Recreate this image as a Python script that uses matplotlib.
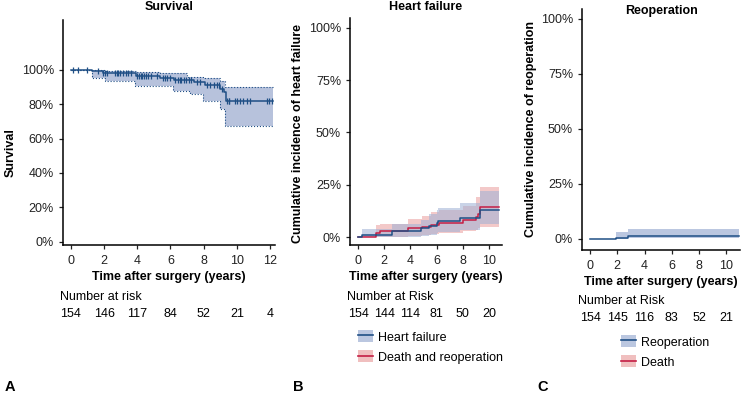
import matplotlib
matplotlib.use('Agg')
import matplotlib.pyplot as plt
import numpy as np
from matplotlib.lines import Line2D
from matplotlib.patches import Patch
from matplotlib.ticker import PercentFormatter
from matplotlib.transforms import blended_transform_factory

plt.rcParams['font.family'] = ['Liberation Sans', 'DejaVu Sans']
plt.rcParams['font.size'] = 9

# Panel A: overall survival (Kaplan-Meier)
surv_t = [0, 1.25, 1.95, 3.95, 5.35, 6.2, 7.4, 8.1, 9.0, 9.2, 9.35]
surv = [1.0, 0.99, 0.978, 0.962, 0.952, 0.94, 0.927, 0.912, 0.89, 0.87, 0.82]
surv_lo_t = [0, 1.27, 2.05, 3.85, 6.15, 7.2, 7.95, 9.0, 9.3]
surv_lo = [1.0, 0.95, 0.935, 0.906, 0.878, 0.857, 0.82, 0.771, 0.67]
surv_hi_t = [0, 1.27, 2.05, 3.95, 5.36, 7.0, 7.95, 9.0, 9.3]
surv_hi = [1.0, 0.996, 0.99, 0.985, 0.978, 0.959, 0.949, 0.935, 0.90]
surv_end = 12.2
censor_t = [0.14, 0.44, 0.94, 1.6, 1.95, 2.05, 2.15, 2.65, 2.75, 2.85, 2.95, 3.15,
            3.3, 3.45, 3.6, 4.0, 4.1, 4.2, 4.3, 4.4, 4.5, 4.65, 4.85, 5.2, 5.55,
            5.65, 5.8, 5.95, 6.3, 6.45, 6.55, 6.65, 6.8, 6.95, 7.1, 7.25, 7.6,
            7.8, 8.2, 8.4, 8.6, 8.8, 8.95, 9.1, 9.4, 9.5, 9.55, 9.9, 10.0, 10.2,
            10.4, 10.6, 10.8, 11.8, 11.95, 12.1]
risk_a_t = [0, 2, 4, 6, 8, 10, 12]
risk_a = [154, 146, 117, 84, 52, 21, 4]

# Panel B: cumulative incidence of heart failure vs competing events
hf_t = [0, 0.28, 2.6, 4.8, 5.4, 6.0, 6.1, 7.8, 9.3]
hf = [0, 0.011, 0.03, 0.044, 0.053, 0.068, 0.077, 0.093, 0.127]
hf_lo = [0, 0, 0, 0.004, 0.01, 0.02, 0.025, 0.035, 0.064]
hf_hi = [0, 0.038, 0.06, 0.08, 0.11, 0.127, 0.14, 0.165, 0.22]
dr_t = [0, 1.4, 1.65, 3.8, 4.9, 5.6, 6.15, 8.0, 9.0, 9.2, 9.35]
dr = [0, 0.02, 0.03, 0.041, 0.049, 0.058, 0.068, 0.08, 0.096, 0.112, 0.143]
dr_lo = [0, 0, 0, 0.005, 0.01, 0.015, 0.02, 0.03, 0.035, 0.045, 0.05]
dr_hi = [0, 0.057, 0.06, 0.088, 0.10, 0.12, 0.13, 0.15, 0.19, 0.19, 0.24]
b_end = 10.75
risk_b_t = [0, 2, 4, 6, 8, 10]
risk_b = [154, 144, 114, 81, 50, 20]

# Panel C: cumulative incidence of reoperation
re_t = [0, 1.9, 2.8]
re = [0, 0.0065, 0.013]
re_lo = [0, 0.0, 0.003]
re_hi = [0, 0.03, 0.044]
c_end = 10.9
risk_c_t = [0, 2, 4, 6, 8, 10]
risk_c = [154, 145, 116, 83, 52, 21]

blue = '#1f4f85'
red = '#c41e44'
blue_band = '#9eb0d4'
red_band = '#eba5a5'

W, H = 746, 396
fig = plt.figure(figsize=(W / 100, H / 100), dpi=100)


def add_ax(l, r, t, b):
    ax = fig.add_axes([l / W, 1 - b / H, (r - l) / W, (b - t) / H])
    for s in ['top', 'right']:
        ax.spines[s].set_visible(False)
    for s in ['left', 'bottom']:
        ax.spines[s].set_linewidth(1.1)
    ax.tick_params(length=3, width=0.9, labelsize=9, colors='#222222')
    ax.tick_params(axis='x', pad=4)
    ax.tick_params(axis='y', pad=3.5)
    ax.yaxis.set_major_formatter(PercentFormatter(xmax=1, decimals=0))
    return ax


def ext(t, v, end):
    return list(t) + [end], list(v) + [v[-1]]


def risk_table(ax, ts, ns, label, x_lab, y_lab, y_num):
    fig.text(x_lab / W, 1 - y_lab / H, label, ha='left', va='center', fontsize=9)
    tr = blended_transform_factory(ax.transData, fig.transFigure)
    for t, n in zip(ts, ns):
        ax.text(t, 1 - y_num / H, str(n), transform=tr, ha='center', va='center', fontsize=9)


# ---- A ----
axA = add_ax(63, 275, 20, 245)
x, y = ext(surv_t, surv, surv_end)
xl, yl = ext(surv_lo_t, surv_lo, surv_end)
xh, yh = ext(surv_hi_t, surv_hi, surv_end)
grid = np.union1d(np.array(xl), np.array(xh))
lo_g = np.array(yl)[np.searchsorted(xl, grid, side='right') - 1]
hi_g = np.array(yh)[np.searchsorted(xh, grid, side='right') - 1]
axA.fill_between(grid, lo_g, hi_g, step='post', color='#b7c2dc', lw=0)
axA.step(xl, yl, where='post', color=blue, lw=0.8, ls=':')
axA.step(xh, yh, where='post', color=blue, lw=0.8, ls=':')
axA.step(x, y, where='post', color=blue, lw=1.1)
cy = np.array(surv)[np.searchsorted(surv_t, censor_t, side='right') - 1]
axA.plot(censor_t, cy, ls='none', marker='|', ms=5, mew=0.9, color=blue)
axA.set_xlim(-0.48, 12.3)
axA.set_ylim(-0.018, 1.288)
axA.set_xticks(range(0, 13, 2))
axA.set_yticks(np.arange(0, 1.01, 0.2))
axA.set_xlabel('Time after surgery (years)', fontweight='bold', labelpad=3)
axA.set_ylabel('Survival', fontweight='bold')
axA.yaxis.set_label_coords(-0.217, 0.409)
axA.text(0.5, 1.0 + 13 / 225, 'Survival', transform=axA.transAxes, ha='center', va='center',
         fontweight='bold')
risk_table(axA, risk_a_t, risk_a, 'Number at risk', 60, 297, 314)

# ---- B ----
axB = add_ax(350, 502, 18, 245)
for t, v, lo, hi, lc, bc, a in [(dr_t, dr, dr_lo, dr_hi, red, red_band, 0.6),
                                (hf_t, hf, hf_lo, hf_hi, blue, blue_band, 0.55)]:
    xx, lo_e = ext(t, lo, b_end)
    _, hi_e = ext(t, hi, b_end)
    axB.fill_between(xx, lo_e, hi_e, step='post', color=bc, alpha=a, lw=0)
for t, v, lc in [(dr_t, dr, red), (hf_t, hf, blue)]:
    xx, vv = ext(t, v, b_end)
    axB.step(xx, vv, where='post', color=lc, lw=1.1)
axB.set_xlim(-0.62, 11.0)
axB.set_ylim(-0.038, 1.047)
axB.set_xticks(range(0, 11, 2))
axB.set_yticks(np.arange(0, 1.01, 0.25))
axB.set_xlabel('Time after surgery (years)', fontweight='bold', labelpad=3)
axB.set_ylabel('Cumulative incidence of heart failure', fontweight='bold')
axB.yaxis.set_label_coords(-0.303, 0.493)
axB.text(0.5, 1.0 + 11 / 227, 'Heart failure', transform=axB.transAxes, ha='center', va='center',
         fontweight='bold')
risk_table(axB, risk_b_t, risk_b, 'Number at Risk', 347, 297, 314)

# ---- C ----
axC = add_ax(582, 740, 9, 250)
xx, lo_e = ext(re_t, re_lo, c_end)
_, hi_e = ext(re_t, re_hi, c_end)
axC.fill_between(xx, lo_e, hi_e, step='post', color=blue_band, alpha=0.7, lw=0)
xx, vv = ext(re_t, re, c_end)
axC.step(xx, vv, where='post', color=blue, lw=1.1)
axC.set_xlim(-0.59, 11.0)
axC.set_ylim(-0.05, 1.045)
axC.set_xticks(range(0, 11, 2))
axC.set_yticks(np.arange(0, 1.01, 0.25))
axC.set_xlabel('Time after surgery (years)', fontweight='bold', labelpad=3)
axC.set_ylabel('Cumulative incidence of reoperation', fontweight='bold')
axC.yaxis.set_label_coords(-0.285, 0.502)
axC.text(0.5, 1.0 - 2 / 241, 'Reoperation', transform=axC.transAxes, ha='center', va='center',
         fontweight='bold')
risk_table(axC, risk_c_t, risk_c, 'Number at Risk', 578, 301, 318)


def entry(lc, bc):
    return (Patch(facecolor=bc, edgecolor='none', alpha=0.7),
            Line2D([], [], color=lc, lw=1.2))


leg_kw = dict(loc='center left', frameon=False, borderpad=0, borderaxespad=0,
              handlelength=1.2, handleheight=1.1, handletextpad=0.4, labelspacing=0.55,
              fontsize=9)
fig.legend([entry(blue, blue_band), entry(red, red_band)],
           ['Heart failure', 'Death and reoperation'],
           bbox_to_anchor=(358 / W, 1 - 347 / H), **leg_kw)
fig.legend([entry(blue, blue_band), entry(red, red_band)],
           ['Reoperation', 'Death'],
           bbox_to_anchor=(621 / W, 1 - 352 / H), **leg_kw)

for lab, px in [('A', 5), ('B', 293), ('C', 537)]:
    fig.text(px / W, 1 - 387 / H, lab, fontweight='bold', fontsize=10.5, ha='left', va='center')

fig.savefig('out.png', dpi=100)
